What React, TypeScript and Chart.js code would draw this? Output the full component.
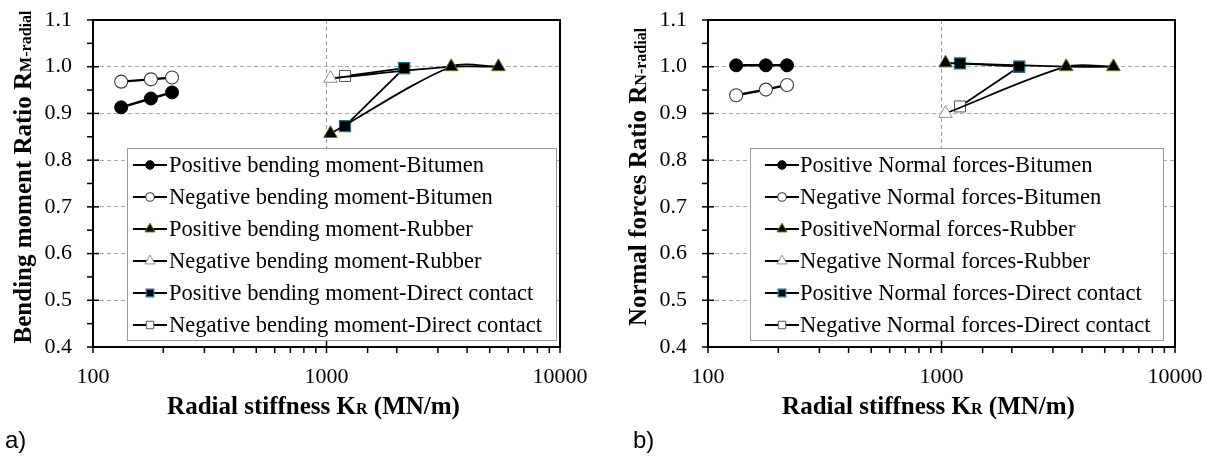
import React, { useEffect, useRef } from 'react';
import { Chart, registerables } from 'chart.js';
import { drawPoint } from 'chart.js/helpers';
Chart.register(...registerables);

// Radial stiffness K_R (MN/m) of each interface type
const kBitumen = [132, 177, 218];
const kRubber = [1040, 3420, 5450];
const kDirect = [1200, 2150];

// Panel a) bending moment ratio R_M-radial
const momPosBitumen = [0.913, 0.932, 0.945];
const momNegBitumen = [0.968, 0.973, 0.977];
const momPosRubber = [0.857, 1.0, 1.0];
const momNegRubber = [0.975, 1.0, 1.0];
const momPosDirect = [0.873, 0.997];
const momNegDirect = [0.98, 0.997];

// Panel b) normal forces ratio R_N-radial
const nPosBitumen = [1.003, 1.003, 1.003];
const nNegBitumen = [0.939, 0.951, 0.961];
const nPosRubber = [1.008, 1.0, 1.0];
const nNegRubber = [0.9, 1.0, 1.0];
const nPosDirect = [1.007, 1.0];
const nNegDirect = [0.915, 1.0];

const xLabelTicks = [100, 1000, 10000];
const yTicks = [0.4, 0.5, 0.6, 0.7, 0.8, 0.9, 1.0, 1.1];

const legendA = [
  'Positive bending moment-Bitumen',
  'Negative bending moment-Bitumen',
  'Positive bending moment-Rubber',
  'Negative bending moment-Rubber',
  'Positive bending moment-Direct contact',
  'Negative bending moment-Direct contact',
];
const legendB = [
  'Positive Normal forces-Bitumen',
  'Negative Normal forces-Bitumen',
  'PositiveNormal forces-Rubber',
  'Negative Normal forces-Rubber',
  'Positive Normal forces-Direct contact',
  'Negative Normal forces-Direct contact',
];

const SERIF = '"Liberation Serif", "Times New Roman", serif';

const styles = [
  { pointStyle: 'circle', radius: 6.5, bg: '#000', border: '#000', bw: 1, lw: 2.4, tension: 0, lr: 4.3 },
  { pointStyle: 'circle', radius: 6.5, bg: '#fff', border: '#3a3a3a', bw: 1.1, lw: 2.4, tension: 0, lr: 4.3 },
  { pointStyle: 'triangle', radius: 7.8, bg: '#000', border: '#6f7020', bw: 1, lw: 1.8, tension: 0.3, lr: 5.8 },
  { pointStyle: 'triangle', radius: 7.8, bg: '#fff', border: '#8f86b8', bw: 1, lw: 1.8, tension: 0.3, lr: 5.8 },
  { pointStyle: 'rect', radius: 7.8, bg: '#000', border: '#2b6f85', bw: 1.3, lw: 1.8, tension: 0, lr: 5.3 },
  { pointStyle: 'rect', radius: 7.8, bg: '#fff', border: '#555', bw: 1, lw: 1.8, tension: 0, lr: 5.3 },
];

type Panel = {
  series: { k: number[]; v: number[] }[];
  labels: string[];
  yMain: string;
  ySub: string;
  width: number;
  plotLeft: number;
  plotRight: number;
  legendBox: [number, number, number, number];
  legendSymX: number;
  legendTextX: number;
};

const PLOT_TOP = 20;
const PLOT_BOTTOM = 347;

function decorPlugin(p: Panel) {
  return {
    id: 'decor',
    afterDraw(chart: any) {
      const ctx = chart.ctx as CanvasRenderingContext2D;
      const { left, right, top, bottom } = chart.chartArea;
      const xs = chart.scales.x;
      const ys = chart.scales.y;
      ctx.save();
      ctx.strokeStyle = '#000';
      ctx.lineWidth = 1.5;
      const line = (x1: number, y1: number, x2: number, y2: number) => {
        ctx.beginPath();
        ctx.moveTo(x1, y1);
        ctx.lineTo(x2, y2);
        ctx.stroke();
      };
      // x ticks
      for (const t of xs.ticks) {
        const px = xs.getPixelForValue(t.value);
        if (xLabelTicks.some((m) => Math.abs(m - t.value) < 1e-6)) line(px, bottom - 6, px, bottom + 6);
        else line(px, bottom, px, bottom + 6);
      }
      // y ticks
      for (let i = 0; i < yTicks.length; i++) {
        const py = ys.getPixelForValue(yTicks[i]);
        line(left - 6, py, left + 6, py);
        if (i < yTicks.length - 1) {
          const pm = ys.getPixelForValue((yTicks[i] + yTicks[i + 1]) / 2);
          line(left - 6, pm, left, pm);
        }
      }
      // plot border
      ctx.lineWidth = 2;
      ctx.strokeRect(left, top, right - left, bottom - top);

      // legend
      const [bx1, by1, bx2, by2] = p.legendBox;
      ctx.fillStyle = '#fff';
      ctx.fillRect(bx1, by1, bx2 - bx1, by2 - by1);
      ctx.strokeStyle = '#9a9a9a';
      ctx.lineWidth = 1;
      ctx.strokeRect(bx1 + 0.5, by1 + 0.5, bx2 - bx1, by2 - by1);
      ctx.font = `22.5px ${SERIF}`;
      ctx.textBaseline = 'middle';
      ctx.textAlign = 'left';
      p.labels.forEach((lab, i) => {
        const st = styles[i];
        const y = by1 + 17 + i * 32;
        ctx.strokeStyle = '#000';
        ctx.lineWidth = 2;
        line(p.legendSymX, y, p.legendSymX + 34, y);
        ctx.fillStyle = st.bg;
        ctx.strokeStyle = st.border;
        ctx.lineWidth = st.bw;
        drawPoint(ctx, { pointStyle: st.pointStyle as any, radius: st.lr, rotation: 0, borderWidth: st.bw }, p.legendSymX + 17, y);
        ctx.fillStyle = '#000';
        ctx.fillText(lab, p.legendTextX, y + 1);
      });

      // x title
      ctx.fillStyle = '#000';
      ctx.textBaseline = 'alphabetic';
      const fMain = `bold 25px ${SERIF}`;
      const fSub = `bold 16px ${SERIF}`;
      const parts: [string, string][] = [
        ['Radial stiffness K', fMain],
        ['R', fSub],
        [' (MN/m)', fMain],
      ];
      let tw = 0;
      for (const [s, f] of parts) { ctx.font = f; tw += ctx.measureText(s).width; }
      let cx = (left + right) / 2 - 13 - tw / 2;
      for (const [s, f] of parts) { ctx.font = f; ctx.fillText(s, cx, 414); cx += ctx.measureText(s).width; }

      // y title
      ctx.save();
      ctx.translate(left - 62, 177);
      ctx.rotate(-Math.PI / 2);
      const yparts: [string, string][] = [[p.yMain, fMain], [p.ySub, fSub]];
      tw = 0;
      for (const [s, f] of yparts) { ctx.font = f; tw += ctx.measureText(s).width; }
      cx = -tw / 2;
      for (const [s, f] of yparts) { ctx.font = f; ctx.fillText(s, cx, 0); cx += ctx.measureText(s).width; }
      ctx.restore();
      ctx.restore();
    },
  };
}

function ChartPanel({ p }: { p: Panel }) {
  const ref = useRef<HTMLCanvasElement>(null);
  useEffect(() => {
    if (!ref.current) return;
    const datasets = p.series.map((s, i) => {
      const st = styles[i];
      return {
        label: p.labels[i],
        data: s.k.map((k, j) => ({ x: k, y: s.v[j] })),
        borderColor: '#000',
        borderWidth: st.lw,
        pointStyle: st.pointStyle,
        pointRadius: st.radius,
        pointBackgroundColor: st.bg,
        pointBorderColor: st.border,
        pointBorderWidth: st.bw,
        tension: st.tension,
        fill: false,
        showLine: true,
      };
    });
    const chart = new Chart(ref.current, {
      type: 'line',
      data: { datasets } as any,
      plugins: [decorPlugin(p)],
      options: {
        responsive: false,
        animation: false,
        events: [],
        layout: { padding: { left: 0, right: p.width - p.plotRight, top: PLOT_TOP, bottom: 0 } },
        plugins: { legend: { display: false }, tooltip: { enabled: false }, title: { display: false } },
        scales: {
          x: {
            type: 'logarithmic',
            min: 100,
            max: 10000,
            afterFit: (s: any) => {
              s.height = 459 - PLOT_BOTTOM;
              s.paddingLeft = 0;
              s.paddingRight = 0;
            },
            grid: {
              drawTicks: false,
              lineWidth: 1,
              color: (c: any) => (c.tick && Math.abs(c.tick.value - 1000) < 1e-6 ? '#9a9a9a' : 'rgba(0,0,0,0)'),
            },
            border: { display: false, dash: [4, 3] },
            ticks: {
              autoSkip: false,
              maxRotation: 0,
              padding: 17,
              color: '#000',
              font: { family: SERIF, size: 22 },
              callback: (v: any) => (xLabelTicks.some((m) => Math.abs(m - Number(v)) < 1e-6) ? String(Math.round(Number(v))) : ''),
            },
          },
          y: {
            type: 'linear',
            min: yTicks[0],
            max: yTicks[yTicks.length - 1],
            afterFit: (s: any) => {
              s.width = p.plotLeft;
              s.paddingTop = 0;
              s.paddingBottom = 0;
            },
            grid: {
              drawTicks: false,
              lineWidth: 1,
              color: (c: any) => {
                const v = c.tick ? c.tick.value : 0;
                return Math.abs(v - 0.4) < 1e-6 || Math.abs(v - 1.1) < 1e-6 ? 'rgba(0,0,0,0)' : '#a8a8a8';
              },
            },
            border: { display: false, dash: [4, 3] },
            ticks: {
              stepSize: 0.1,
              padding: 21,
              color: '#000',
              font: { family: SERIF, size: 22 },
              callback: (v: any) => Number(v).toFixed(1),
            },
          },
        },
      } as any,
    });
    return () => chart.destroy();
  }, [p]);
  return <canvas ref={ref} width={p.width} height={459} style={{ display: 'block', width: p.width, height: 459 }} />;
}

const panelA: Panel = {
  series: [
    { k: kBitumen, v: momPosBitumen },
    { k: kBitumen, v: momNegBitumen },
    { k: kRubber, v: momPosRubber },
    { k: kRubber, v: momNegRubber },
    { k: kDirect, v: momPosDirect },
    { k: kDirect, v: momNegDirect },
  ],
  labels: legendA,
  yMain: 'Bending moment Ratio R',
  ySub: 'M-radial',
  width: 600,
  plotLeft: 93,
  plotRight: 560,
  legendBox: [127, 148, 556, 340],
  legendSymX: 133,
  legendTextX: 169,
};

const panelB: Panel = {
  series: [
    { k: kBitumen, v: nPosBitumen },
    { k: kBitumen, v: nNegBitumen },
    { k: kRubber, v: nPosRubber },
    { k: kRubber, v: nNegRubber },
    { k: kDirect, v: nPosDirect },
    { k: kDirect, v: nNegDirect },
  ],
  labels: legendB,
  yMain: 'Normal forces Ratio R',
  ySub: 'N-radial',
  width: 613,
  plotLeft: 108,
  plotRight: 575,
  legendBox: [150, 148, 563, 340],
  legendSymX: 165,
  legendTextX: 200,
};

export default function App() {
  return (
    <div style={{ position: 'absolute', left: 0, top: 0, width: 1213, height: 459, background: '#fff', overflow: 'hidden' }}>
      <div style={{ position: 'absolute', left: 0, top: 0 }}>
        <ChartPanel p={panelA} />
      </div>
      <div style={{ position: 'absolute', left: 600, top: 0 }}>
        <ChartPanel p={panelB} />
      </div>
      <div style={{ position: 'absolute', left: 5, top: 426, font: '24px "Liberation Sans", Arial, sans-serif', lineHeight: '27px' }}>a)</div>
      <div style={{ position: 'absolute', left: 633, top: 426, font: '24px "Liberation Sans", Arial, sans-serif', lineHeight: '27px' }}>b)</div>
    </div>
  );
}
